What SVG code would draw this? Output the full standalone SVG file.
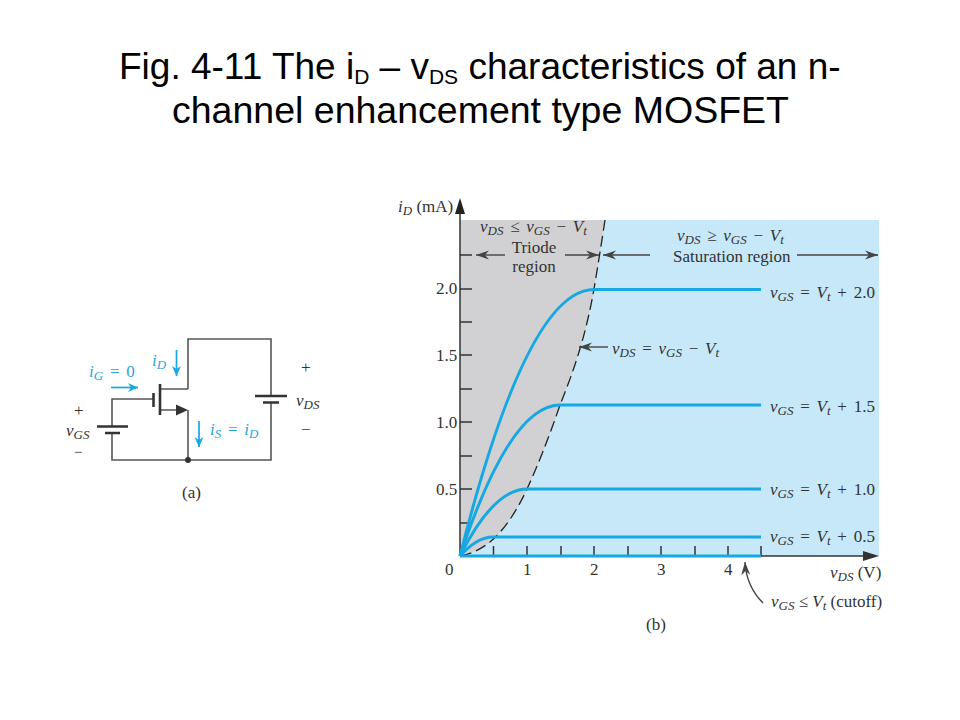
<svg xmlns="http://www.w3.org/2000/svg" width="960" height="720" viewBox="0 0 960 720">
<style>
.title{font-family:"Liberation Sans",Arial,sans-serif;font-size:37.5px;fill:#000}
.title .s{font-size:21px}
.t{font-family:"Liberation Serif","Times New Roman",serif;font-size:17px;fill:#333}
.i{font-style:italic;word-spacing:2.5px}
.n{word-spacing:0}
.b{fill:#2aa5d8}
.s{font-size:13px}
.w{fill:none;stroke:#555;stroke-width:1.6}
.k{fill:none;stroke:#333;stroke-width:2.6}
.ax{fill:none;stroke:#333;stroke-width:1.5}
.c{fill:none;stroke:#15a8e2;stroke-width:3}
.ba{fill:none;stroke:#15a8e2;stroke-width:1.7;marker-end:url(#blue)}
.da{fill:none;stroke:#444;stroke-width:1.4;marker-end:url(#dark)}
</style>
<defs>
<marker id="blue" markerWidth="14" markerHeight="12" refX="10" refY="5" orient="auto" markerUnits="userSpaceOnUse"><path d="M0 0.500L10 5L0 9.500L3 5Z" fill="#15a8e2"/></marker>
<marker id="dark" markerWidth="16" markerHeight="12" refX="13" refY="5" orient="auto" markerUnits="userSpaceOnUse"><path d="M0 0.500L13 5L0 9.500L4 5Z" fill="#444"/></marker>
</defs>
<rect width="960" height="720" fill="#fff"/>
<g id="title">
<text class="title" x="119" y="79" style="font-size:37px">Fig. 4-11 The i<tspan class="s" dy="5">D</tspan><tspan dy="-5"> – v</tspan><tspan class="s" dy="5">DS</tspan><tspan dy="-5"> characteristics of an n-</tspan></text>
<text class="title" x="172" y="123">channel enhancement type MOSFET</text>
</g>
<g id="circuit">
<path class="w" d="M188 389V339H271V396M271 402V460H112V433M112 426V399H153M160 389H188M160 410H178M188 410V460"/>
<path class="k" d="M255 396H287M263 402.500H279M97 426.500H128M105 433H120M153.500 393V407M160 384V415"/>
<path d="M176 404.500L188 410L176 415.500Z" fill="#333"/>
<circle cx="188" cy="460" r="3" fill="#333"/>
<path class="ba" d="M111 387.500H138"/>
<path class="ba" d="M176.500 350V376"/>
<path class="ba" d="M199 421V447"/>
<text class="t i b" x="89" y="377">i<tspan class="s" dy="3">G</tspan><tspan dy="-3" font-style="normal"> = 0</tspan></text>
<text class="t i b" x="152" y="366">i<tspan class="s" dy="3">D</tspan></text>
<text class="t i b" x="210" y="435">i<tspan class="s" dy="3">S</tspan><tspan dy="-3"><tspan font-style="normal"> = </tspan>i</tspan><tspan class="s" dy="3">D</tspan></text>
<text class="t" x="301" y="373">+</text>
<text class="t i" x="296" y="406">v<tspan class="s" dy="3">DS</tspan></text>
<text class="t" x="301" y="435">−</text>
<text class="t" x="74" y="416">+</text>
<text class="t i" x="66" y="436">v<tspan class="s" dy="3">GS</tspan></text>
<text class="t" x="74" y="457" style="font-size:15px">−</text>
<text class="t" x="182" y="498">(a)</text>
</g>
<g id="plot">
<rect x="460" y="220" width="419" height="336" fill="#c6e8f9"/>
<path d="M460 220H605C602 240 598 265 594 289C585 340 572 375 560 405C548 440 538 465 527 489C515 515 502 532 490 542C480 550 470 554 460 556Z" fill="#d1d1d3"/>
<path d="M605 220C602 240 598 265 594 289C585 340 572 375 560 405C548 440 538 465 527 489C515 515 502 532 490 542C480 550 470 554 460 556" fill="none" stroke="#222" stroke-width="1.3" stroke-dasharray="11 5"/>
<path class="ax" d="M460 556V212M460 255H472M460 289H472M460 322H472M460 355H472M460 389H472M460 422H472M460 456H472M460 489H472M460 523H472M493.500 546V556M527 546V556M561 546V556M594 546V556M628 546V556M661 546V556M695 546V556M728 546V556M761 546V556M761 556H868"/>
<path d="M460 198L455 214H465Z" fill="#222"/>
<path d="M879 556L863 551V561Z" fill="#333"/>
<g id="curves">
<path class="c" d="M460 556Q527 289.500 594 289.500H761"/>
<path class="c" d="M460 556Q510 405 560 405H761"/>
<path class="c" d="M460 556Q493.500 489 527 489H761"/>
<path class="c" d="M460 556Q477 537 493 537H761"/>
<path class="c" d="M460 556H761"/>
</g>
<g id="arrows">
<path class="da" d="M505 255H476"/>
<path class="da" d="M565 255H599"/>
<path class="da" d="M650 255H603"/>
<path class="da" d="M797 255H878"/>
<path class="da" d="M608 347H579"/>
<path class="da" d="M763 603C752 592 746 580 745 562"/>
</g>
<g id="labels">
<text class="t i n" x="398" y="212">i<tspan class="s" dy="3">D</tspan><tspan dy="-3" font-style="normal"> (mA)</tspan></text>
<text class="t" x="436" y="294">2.0</text>
<text class="t" x="436" y="361">1.5</text>
<text class="t" x="436" y="428">1.0</text>
<text class="t" x="436" y="495">0.5</text>
<text class="t" x="445" y="575">0</text>
<text class="t" x="523" y="575">1</text>
<text class="t" x="590" y="575">2</text>
<text class="t" x="657" y="575">3</text>
<text class="t" x="724" y="575">4</text>
<text class="t i" x="480" y="232">v<tspan class="s" dy="3">DS</tspan><tspan dy="-3" font-style="normal"> ≤ </tspan>v<tspan class="s" dy="3">GS</tspan><tspan dy="-3" font-style="normal"> − </tspan>V<tspan class="s" dy="3">t</tspan></text>
<text class="t" x="534" y="253" text-anchor="middle">Triode</text>
<text class="t" x="534" y="272" text-anchor="middle">region</text>
<text class="t i" x="677" y="241">v<tspan class="s" dy="3">DS</tspan><tspan dy="-3" font-style="normal"> ≥ </tspan>v<tspan class="s" dy="3">GS</tspan><tspan dy="-3" font-style="normal"> − </tspan>V<tspan class="s" dy="3">t</tspan></text>
<text class="t" x="673" y="262">Saturation region</text>
<text class="t i" x="612" y="354">v<tspan class="s" dy="3">DS</tspan><tspan dy="-3" font-style="normal"> = </tspan>v<tspan class="s" dy="3">GS</tspan><tspan dy="-3" font-style="normal"> − </tspan>V<tspan class="s" dy="3">t</tspan></text>
<text class="t i" x="770" y="298">v<tspan class="s" dy="3">GS</tspan><tspan dy="-3" font-style="normal"> = </tspan>V<tspan class="s" dy="3">t</tspan><tspan dy="-3" font-style="normal"> + 2.0</tspan></text>
<text class="t i" x="770" y="412">v<tspan class="s" dy="3">GS</tspan><tspan dy="-3" font-style="normal"> = </tspan>V<tspan class="s" dy="3">t</tspan><tspan dy="-3" font-style="normal"> + 1.5</tspan></text>
<text class="t i" x="770" y="495">v<tspan class="s" dy="3">GS</tspan><tspan dy="-3" font-style="normal"> = </tspan>V<tspan class="s" dy="3">t</tspan><tspan dy="-3" font-style="normal"> + 1.0</tspan></text>
<text class="t i" x="770" y="542">v<tspan class="s" dy="3">GS</tspan><tspan dy="-3" font-style="normal"> = </tspan>V<tspan class="s" dy="3">t</tspan><tspan dy="-3" font-style="normal"> + 0.5</tspan></text>
<text class="t i n" x="830" y="578">v<tspan class="s" dy="3">DS</tspan><tspan dy="-3" font-style="normal"> (V)</tspan></text>
<text class="t i n" x="771" y="607">v<tspan class="s" dy="3">GS</tspan><tspan dy="-3" font-style="normal"> ≤ </tspan>V<tspan class="s" dy="3">t</tspan><tspan dy="-3" font-style="normal"> (cutoff)</tspan></text>
<text class="t" x="646" y="630">(b)</text>
</g>
</g>
</svg>
